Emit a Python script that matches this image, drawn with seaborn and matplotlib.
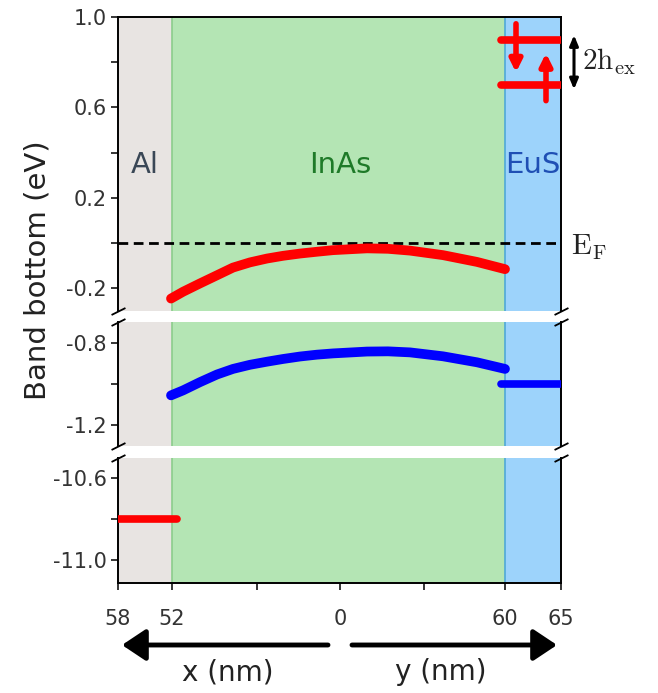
import numpy as np
import pandas as pd
import matplotlib
matplotlib.use("Agg")
import matplotlib.pyplot as plt
import matplotlib.patches as mpatches
import seaborn as sns

sns.set_style("ticks")
plt.rcParams['font.family'] = ['DejaVu Sans']
plt.rcParams['mathtext.fontset'] = 'cm'

# ---------------- data ----------------
region_names = ['Al', 'InAs', 'EuS']
region_edges = [0, 54, 387, 443]            # positions along the plot axis
region_bg = ['#e8e4e2', '#b4e5b4', '#9dd3fb']
region_text = ['#3a4756', '#1e7a28', '#1f4fb4']
xtick_pos = [0, 54, 139, 222, 306, 387, 443]
xtick_labels = ['58', '52', '', '0', '', '60', '65']

pos = [53, 65, 82, 99, 115, 132, 149, 165, 182, 199, 215, 249, 270, 292, 325, 359, 387]
red_band = [-0.245, -0.215, -0.178, -0.142, -0.108, -0.085, -0.068, -0.056, -0.046,
            -0.038, -0.031, -0.023, -0.025, -0.033, -0.053, -0.083, -0.115]
blue_band = [-1.055, -1.031, -0.991, -0.954, -0.927, -0.907, -0.892, -0.879, -0.867,
             -0.858, -0.852, -0.843, -0.842, -0.847, -0.866, -0.895, -0.927]
eus_span = [383, 443]
eus_spin_levels = [0.90, 0.70]
eus_blue = -1.0
al_span = [0, 59]
al_red = -10.8

ylims = [(-0.30, 1.0), (-1.30, -0.70), (-11.11, -10.50)]
yticks = [[1.0, 0.8, 0.6, 0.4, 0.2, 0.0, -0.2], [-0.8, -1.0, -1.2], [-10.6, -10.8, -11.0]]
yticklabels = [['1.0', '', '0.6', '', '0.2', '', '-0.2'], ['-0.8', '', '-1.2'],
               ['-10.6', '', '-11.0']]

# ---------------- layout ----------------
W, H = 658, 693
fig = plt.figure(figsize=(W / 100, H / 100), dpi=100)
L, R = 118, 561
panels_px = [(17, 311), (322, 446), (458, 583)]
axes = []
for (t, b) in panels_px:
    ax = fig.add_axes([L / W, 1 - b / H, (R - L) / W, (b - t) / H])
    axes.append(ax)

for i, ax in enumerate(axes):
    for j in range(3):
        ax.axvspan(region_edges[j], region_edges[j + 1], color=region_bg[j], lw=0, zorder=0)
    ax.axvline(region_edges[1], color='#8ccc8c', lw=1.2, zorder=0.5)
    ax.axvline(region_edges[2], color='#4fa8d8', lw=1.2, zorder=0.5)
    ax.set_xlim(region_edges[0], region_edges[-1])
    ax.set_ylim(*ylims[i])
    ax.set_yticks(yticks[i])
    ax.set_yticklabels(yticklabels[i])
    ax.tick_params(axis='y', direction='out', length=5, width=1.3, labelsize=15,
                   labelcolor='#333333', pad=3)
    for s in ax.spines.values():
        s.set_color('black')
        s.set_linewidth(1.4)
    ax.set_facecolor('none')

# hide inner spines / x ticks
axes[0].spines['bottom'].set_visible(False)
axes[1].spines['top'].set_visible(False)
axes[1].spines['bottom'].set_visible(False)
axes[2].spines['top'].set_visible(False)
for ax in axes[:2]:
    ax.set_xticks([])
ax3 = axes[2]
ax3.set_xticks(xtick_pos)
ax3.set_xticklabels(xtick_labels)
ax3.tick_params(axis='x', direction='out', length=5, width=1.3, labelsize=15,
                labelcolor='#333333', pad=14)

# break marks
kw = dict(marker=[(-1, -0.5), (1, 0.5)], markersize=10, linestyle='none',
          color='k', mec='k', mew=1.3, clip_on=False)
axes[0].plot([0, 1], [0, 0], transform=axes[0].transAxes, **kw)
axes[1].plot([0, 1], [1, 1], transform=axes[1].transAxes, **kw)
axes[1].plot([0, 1], [0, 0], transform=axes[1].transAxes, **kw)
axes[2].plot([0, 1], [1, 1], transform=axes[2].transAxes, **kw)

# ---------------- data lines ----------------
ax1, ax2 = axes[0], axes[1]
ax1.axhline(0, color='black', ls=(0, (3.5, 2)), lw=2, zorder=2)
sns.lineplot(x=pos, y=red_band, ax=ax1, color='red', lw=7, legend=False, zorder=3)
for lev in eus_spin_levels:
    sns.lineplot(x=eus_span, y=[lev, lev], ax=ax1, color='red', lw=5.5, legend=False,
                 zorder=3)
sns.lineplot(x=pos, y=blue_band, ax=ax2, color='blue', lw=7, legend=False, zorder=3)
sns.lineplot(x=eus_span, y=[eus_blue, eus_blue], ax=ax2, color='blue', lw=5.5,
             legend=False, zorder=3)
sns.lineplot(x=al_span, y=[al_red, al_red], ax=ax3, color='red', lw=5.5, legend=False,
             zorder=3)

for ax in axes:
    ax.set_xlabel('')
    ax.set_ylabel('')

# spin arrows
ax1.annotate('', xy=(398, 0.755), xytext=(398, 0.97),
             arrowprops=dict(arrowstyle='-|>,head_length=0.7,head_width=0.35', lw=4,
                             color='red', shrinkA=0, shrinkB=0), zorder=4)
ax1.annotate('', xy=(428, 0.84), xytext=(428, 0.63),
             arrowprops=dict(arrowstyle='-|>,head_length=0.7,head_width=0.35', lw=4,
                             color='red', shrinkA=0, shrinkB=0), zorder=4)
ax1.annotate('', xy=(456, 0.68), xytext=(456, 0.92), annotation_clip=False,
             arrowprops=dict(arrowstyle='<|-|>,head_length=0.6,head_width=0.25', lw=2.2,
                             color='black', shrinkA=0, shrinkB=0))
ax1.text(464, 0.80, r'$\mathrm{2h_{ex}}$', fontsize=21, va='center', ha='left',
         color='#222222', clip_on=False)
ax1.text(453, -0.02, r'$\mathrm{E_F}$', fontsize=21, va='center', ha='left',
         color='#222222', clip_on=False)

# region names
name_x = [27, 222, 415]
for nm, xx, c in zip(region_names, name_x, region_text):
    ax1.text(xx, 0.345, nm, fontsize=21, color=c, ha='center', va='center')

# y label
fig.text(38 / W, 1 - 270 / H, 'Band bottom (eV)', rotation=90, ha='center',
         va='center', fontsize=21, color='#222222')

# direction arrows below the axis
for (x0, x1) in [(328, 122), (352, 557)]:
    fig.add_artist(mpatches.FancyArrowPatch(
        (x0 / W, 1 - 645 / H), (x1 / W, 1 - 645 / H), transform=fig.transFigure,
        arrowstyle='-|>,head_length=0.9,head_width=0.6', lw=3.5, color='black',
        mutation_scale=16, shrinkA=0, shrinkB=0))
fig.text(228 / W, 1 - 672 / H, 'x (nm)', ha='center', va='center', fontsize=20,
         color='#222222')
fig.text(441 / W, 1 - 672 / H, 'y (nm)', ha='center', va='center', fontsize=20,
         color='#222222')

fig.savefig('out.png', dpi=100)
